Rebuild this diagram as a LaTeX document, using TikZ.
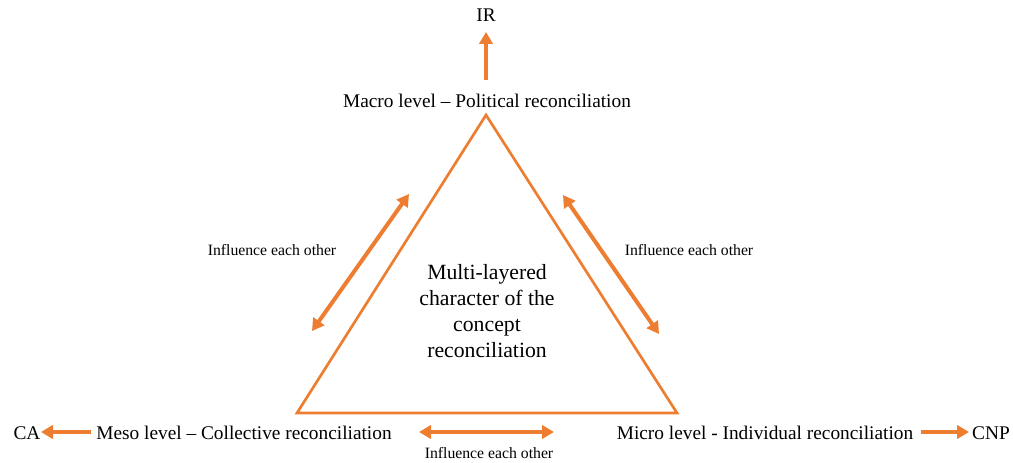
\documentclass[tikz,border=0pt]{standalone}
\usepackage{fontspec}
\setmainfont{Liberation Serif}
\usetikzlibrary{arrows.meta}
\definecolor{orng}{HTML}{ED7D31}
\begin{document}
\begin{tikzpicture}[x=0.75pt,y=-0.75pt,
  lbl/.style={inner sep=0pt,font=\fontsize{14.5}{17}\selectfont},
  small/.style={inner sep=0pt,font=\fontsize{11.8}{14}\selectfont},
  tri/.style={draw=orng,line width=2pt,line join=miter},
  arr/.style={draw=orng,line width=3pt,-{Triangle[length=9pt,width=10pt]}},
  darr/.style={draw=orng,line width=3pt,{Triangle[length=9pt,width=10pt]}-{Triangle[length=9pt,width=10pt]}}]
\useasboundingbox (0,0) rectangle (1013,463);
% triangle
\coordinate (A) at (486,115);
\coordinate (B) at (297,413);
\coordinate (C) at (677,413);
\draw[tri] (A) -- (B) -- (C) -- cycle;
% labels
\node[lbl] (macro) at (487,101) {Macro level -- Political reconciliation};
\node[lbl] (meso) at (244,433) {Meso level -- Collective reconciliation};
\node[lbl] (micro) at (765,433) {Micro level - Individual reconciliation};
\node[lbl] (ir) at (486,15) {IR};
\node[lbl] (ca) at (27,433) {CA};
\node[lbl] (cnp) at (991,433) {CNP};
\node[inner sep=0pt,align=center,font=\fontsize{16.3}{19.5}\selectfont] (center) at (487,311)
  {Multi-layered\\character of the\\concept\\reconciliation};
\node[small] (inl) at (272,250) {Influence each other};
\node[small] (inr) at (689,250) {Influence each other};
\node[small] (inb) at (489,453) {Influence each other};
% arrows
\coordinate (topS) at (486,80);
\coordinate (topE) at (486,32);
\draw[arr] (topS) -- (topE);
\coordinate (caS) at (91,432);
\coordinate (caE) at (41,432);
\draw[arr] (caS) -- (caE);
\coordinate (cnpS) at (921,432);
\coordinate (cnpE) at (969,432);
\draw[arr] (cnpS) -- (cnpE);
\coordinate (l1) at (312,331);
\coordinate (l2) at (409,194);
\draw[darr] (l1) -- (l2);
\coordinate (r1) at (563,195);
\coordinate (r2) at (659,334);
\draw[darr] (r1) -- (r2);
\coordinate (b1) at (419,432);
\coordinate (b2) at (554,432);
\draw[darr] (b1) -- (b2);
\end{tikzpicture}
\end{document}
